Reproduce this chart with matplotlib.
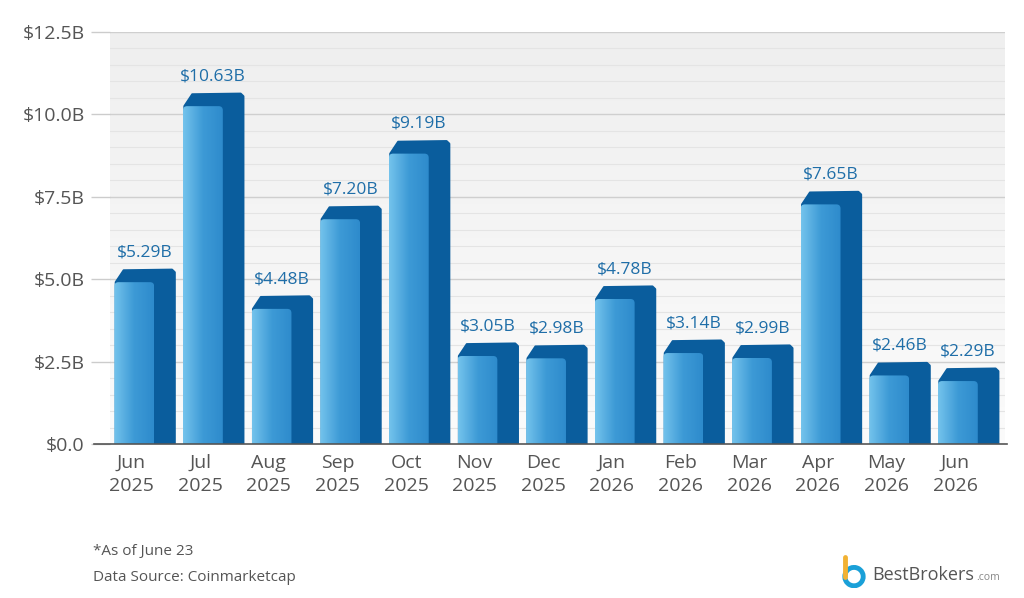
import numpy as np
import matplotlib.pyplot as plt
from matplotlib.patches import FancyBboxPatch, Polygon, Arc
from matplotlib.colors import LinearSegmentedColormap

months = ["Jun\n2025", "Jul\n2025", "Aug\n2025", "Sep\n2025", "Oct\n2025", "Nov\n2025",
          "Dec\n2025", "Jan\n2026", "Feb\n2026", "Mar\n2026", "Apr\n2026", "May\n2026", "Jun\n2026"]
volume = [5.29, 10.63, 4.48, 7.20, 9.19, 3.05, 2.98, 4.78, 3.14, 2.99, 7.65, 2.46, 2.29]
labels = ["$5.29B", "$10.63B", "$4.48B", "$7.20B", "$9.19B", "$3.05B", "$2.98B",
          "$4.78B", "$3.14B", "$2.99B", "$7.65B", "$2.46B", "$2.29B"]
yticks = [0, 2.5, 5, 7.5, 10, 12.5]
ytick_labels = ["$0.0", "$2.5B", "$5.0B", "$7.5B", "$10.0B", "$12.5B"]

plt.rcParams['font.family'] = ['Open Sans', 'DejaVu Sans']

fig = plt.figure(figsize=(10.24, 5.98), dpi=100)
ax = fig.add_axes([0.107, 0.2575, 0.874, 0.689])

# light background gradient
bg = np.linspace(0, 1, 100).reshape(-1, 1)
bg_cmap = LinearSegmentedColormap.from_list("bg", ["#fbfbfb", "#efefef"])
ax.imshow(bg, cmap=bg_cmap, aspect="auto", extent=(-0.52, 12.52, 0, 12.5),
          origin="lower", zorder=0)

for y in np.arange(0.5, 12.5, 0.5):
    if y % 2.5 != 0:
        ax.axhline(y, color="#e4e4e4", lw=0.8, zorder=1)
for y in yticks[1:]:
    ax.axhline(y, color="#cfcfcf", lw=1.0, zorder=1)

w = 0.58       # front face width
dx = 0.30      # depth offset in x
dy = 0.38      # depth offset in y
aspect = 68.6 / 32.96

front_cmap = LinearSegmentedColormap.from_list("front", ["#74c3ec", "#3d9ad6", "#2e8bcc"])
grad = np.linspace(0, 1, 100).reshape(1, -1)

for i, v in enumerate(volume):
    x0 = i - 0.45
    vf = v - dy
    back = Polygon([(x0 + 0.02, -0.5), (x0 + 0.02, vf), (x0 + dx * 0.45, v - 0.02),
                    (x0 + w + dx - 0.04, v), (x0 + w + dx, v - 0.08),
                    (x0 + w + dx, -0.5)],
                   closed=True, facecolor="#0a5d9d", edgecolor="#0a5d9d",
                   lw=1.5, joinstyle="round", zorder=2)
    ax.add_patch(back)
    face = FancyBboxPatch((x0, -0.5), w, vf + 0.5,
                          boxstyle="round,pad=0,rounding_size=0.06",
                          mutation_aspect=aspect, facecolor="none",
                          edgecolor="none", zorder=3)
    ax.add_patch(face)
    im = ax.imshow(grad, cmap=front_cmap, aspect="auto",
                   extent=(x0, x0 + w, 0, vf), zorder=3)
    im.set_clip_path(face)
    ax.text(x0 + (w + dx) / 2, v + 0.28, labels[i], ha="center", va="bottom",
            fontsize=12.5, color="#1f6ea8", zorder=4)

ax.set_xlim(-0.52, 12.52)
ax.set_ylim(0, 12.5)
ax.set_xticks([i - 0.45 + w / 2 - 0.04 for i in range(len(months))])
ax.set_xticklabels(months, fontsize=14, color="#555555", linespacing=1.4)
ax.tick_params(axis="x", length=0, pad=7)
ax.set_yticks(yticks)
ax.set_yticklabels(ytick_labels, fontsize=14, color="#555555")
ax.tick_params(axis="y", length=14, color="#cccccc", width=1.0, pad=4)

for s in ["top", "right", "left", "bottom"]:
    ax.spines[s].set_visible(False)
# baseline extending slightly beyond the plot area
ax.plot([-0.74, 12.56], [0, 0], color="#555555", lw=1.2, clip_on=False, zorder=5)

fig.text(0.091, 0.072, "*As of June 23", fontsize=11, color="#555555")
fig.text(0.091, 0.028, "Data Source: Coinmarketcap", fontsize=11, color="#555555")

# simple logo
brand = fig.text(0.852, 0.030, "BestBrokers", fontsize=13, color="#555555")
fig.canvas.draw()
bb = brand.get_window_extent().transformed(fig.transFigure.inverted())
fig.text(bb.x1 + 0.002, 0.030, ".com", fontsize=7.5, color="#888888")
lax = fig.add_axes([0.818, 0.014, 0.032, 0.06])
lax.set_xlim(0, 1)
lax.set_ylim(0, 1)
lax.set_aspect("equal")
lax.axis("off")
lax.plot([0.22, 0.22], [0.35, 0.95], color="#f2b233", lw=3.5, solid_capstyle="round")
lax.add_patch(Arc((0.5, 0.35), 0.56, 0.56, theta1=-200, theta2=160,
                  color="#1aa0d8", lw=3.5))

fig.savefig("out.png", dpi=100)
